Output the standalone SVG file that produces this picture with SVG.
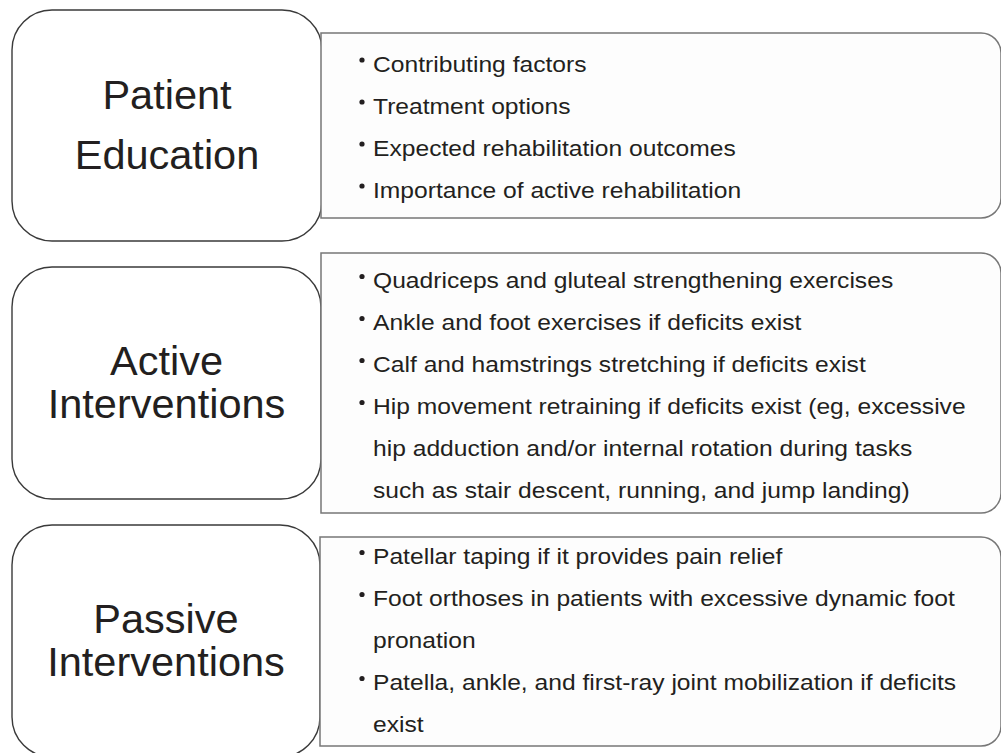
<svg xmlns="http://www.w3.org/2000/svg" width="1001" height="753" viewBox="0 0 1001 753">
<style>
.lbox{fill:#ffffff;stroke:#3a3a3a;stroke-width:1.4}
.rbox{fill:#fdfdfd;stroke:#777777;stroke-width:1.5}
.title{font-family:"Liberation Sans",Arial,sans-serif;font-size:41.5px;fill:#231f20;text-anchor:middle}
.item{font-family:"Liberation Sans",Arial,sans-serif;font-size:22px;fill:#231f20}
.dot{fill:#231f20}
</style>
<rect width="1001" height="753" fill="#ffffff"/>
<g id="connectors"/>
<g id="patient-education">
<rect class="lbox" x="12" y="10" width="310" height="231" rx="40" ry="40"/>
<text class="title" x="167" y="109">Patient</text>
<text class="title" x="167" y="169">Education</text>
</g>
<g id="patient-education-items">
<path class="rbox" d="M321,33 H981 A20,20 0 0 1 1001,53 V198 A20,20 0 0 1 981,218 H321 Z"/>
<circle class="dot" cx="362" cy="60" r="2.6"/>
<circle class="dot" cx="362" cy="102" r="2.6"/>
<circle class="dot" cx="362" cy="144" r="2.6"/>
<circle class="dot" cx="362" cy="186" r="2.6"/>
<g transform="translate(373 0) scale(1.12 1)">
<text class="item" x="0" y="72">Contributing factors</text>
<text class="item" x="0" y="114">Treatment options</text>
<text class="item" x="0" y="156">Expected rehabilitation outcomes</text>
<text class="item" x="0" y="198">Importance of active rehabilitation</text>
</g>
</g>
<g id="active-interventions">
<rect class="lbox" x="12" y="267" width="309" height="232" rx="40" ry="40"/>
<text class="title" x="166.5" y="375">Active</text>
<text class="title" x="166.5" y="418">Interventions</text>
</g>
<g id="active-interventions-items">
<path class="rbox" d="M321,253 H981 A20,20 0 0 1 1001,273 V493 A20,20 0 0 1 981,513 H321 Z"/>
<circle class="dot" cx="362" cy="276.5" r="2.6"/>
<circle class="dot" cx="362" cy="318.5" r="2.6"/>
<circle class="dot" cx="362" cy="360.5" r="2.6"/>
<circle class="dot" cx="362" cy="402.5" r="2.6"/>
<g transform="translate(373 0) scale(1.12 1)">
<text class="item" x="0" y="288.5">Quadriceps and gluteal strengthening exercises</text>
<text class="item" x="0" y="330.5">Ankle and foot exercises if deficits exist</text>
<text class="item" x="0" y="372.5">Calf and hamstrings stretching if deficits exist</text>
<text class="item" x="0" y="414.5">Hip movement retraining if deficits exist (eg, excessive</text>
<text class="item" x="0" y="456.5">hip adduction and/or internal rotation during tasks</text>
<text class="item" x="0" y="498.5">such as stair descent, running, and jump landing)</text>
</g>
</g>
<g id="passive-interventions">
<rect class="lbox" x="12" y="525" width="308" height="232" rx="40" ry="40"/>
<text class="title" x="166" y="633">Passive</text>
<text class="title" x="166" y="676">Interventions</text>
</g>
<g id="passive-interventions-items">
<path class="rbox" d="M320,537 H981 A20,20 0 0 1 1001,557 V726 A20,20 0 0 1 981,746 H320 Z"/>
<circle class="dot" cx="362" cy="552.5" r="2.6"/>
<circle class="dot" cx="362" cy="594.5" r="2.6"/>
<circle class="dot" cx="362" cy="678.5" r="2.6"/>
<g transform="translate(373 0) scale(1.12 1)">
<text class="item" x="0" y="564.5">Patellar taping if it provides pain relief</text>
<text class="item" x="0" y="606.5">Foot orthoses in patients with excessive dynamic foot</text>
<text class="item" x="0" y="648.5">pronation</text>
<text class="item" x="0" y="690.5">Patella, ankle, and first-ray joint mobilization if deficits</text>
<text class="item" x="0" y="732.5">exist</text>
</g>
</g>
</svg>
